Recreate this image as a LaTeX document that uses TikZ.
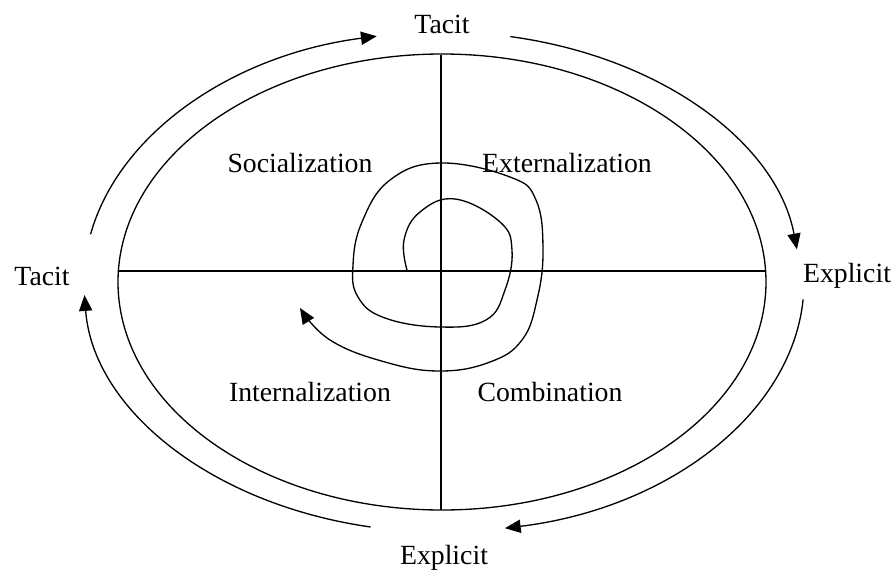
\documentclass[tikz,border=0pt]{standalone}
\usepackage{fontspec}
\setmainfont{Liberation Serif}
\usetikzlibrary{arrows.meta,calc}
\tikzset{
  every node/.style={font=\fontsize{15.8}{18}\selectfont},
  label/.style={anchor=base, inner sep=0pt},
  frame/.style={line width=0.75pt, draw=black},
  cycarrow/.style={line width=0.75pt, -{Triangle[length=9pt,width=7.5pt]}},
}

\begin{document}
\begin{tikzpicture}[x=0.02cm, y=0.02cm]
  \useasboundingbox (0,0) rectangle (894,-569);

  % main ellipse and the four quadrants
  \coordinate (c) at (442,-282);
  \draw[frame] (c) ellipse[x radius=324, y radius=228];
  \coordinate (top) at (441,-55);
  \coordinate (bot) at (441,-510);
  \coordinate (lft) at (118.4,-271);
  \coordinate (rgt) at (765.6,-271);
  \draw[frame] (top) -- (bot);
  \draw[frame] (lft) -- (rgt);

  % outer labels
  \node[label] (tacitN) at (442,-33) {Tacit};
  \node[label] (tacitW) at (42,-285) {Tacit};
  \node[label] (explE) at (847,-282) {Explicit};
  \node[label] (explS) at (444,-564) {Explicit};

  % quadrant labels
  \node[label] (soc) at (300,-172) {Socialization};
  \node[label] (ext) at (567,-172) {Externalization};
  \node[label] (int) at (310,-401) {Internalization};
  \node[label] (com) at (550,-401) {Combination};

  % cycle arrows around the ellipse
  \coordinate (a1) at ($(c)+(169:358 and 250)$);
  \coordinate (a2) at ($(c)+(79:358 and 250)$);
  \coordinate (a3) at ($(c)+(-4:362 and 250)$);
  \coordinate (a4) at ($(c)+(-101.5:358 and 250)$);
  \draw[cycarrow] (a1) arc[start angle=169, end angle=100.5, x radius=358, y radius=250];
  \draw[cycarrow] (a2) arc[start angle=79, end angle=7.5, x radius=358, y radius=250];
  \draw[cycarrow] (a3) arc[start angle=-4, end angle=-80, x radius=362, y radius=250];
  \draw[cycarrow] (a4) arc[start angle=-101.5, end angle=-177, x radius=358, y radius=250];

  % knowledge spiral
  \coordinate (sp) at (407,-270);
  \draw[cycarrow] plot[smooth, tension=0.7] coordinates {
    (sp) (404,-240) (420,-212) (455,-199) (500,-222) (512,-250)
    (505,-290) (486,-320) (440,-327) (385,-318) (358,-297)
    (353,-265) (362,-222) (390,-180) (440,-163) (510,-177)
    (536,-200) (543,-250) (537,-300) (522,-340) (490,-362)
    (440,-371) (385,-362) (330,-340) (300,-308)};
\end{tikzpicture}
\end{document}
